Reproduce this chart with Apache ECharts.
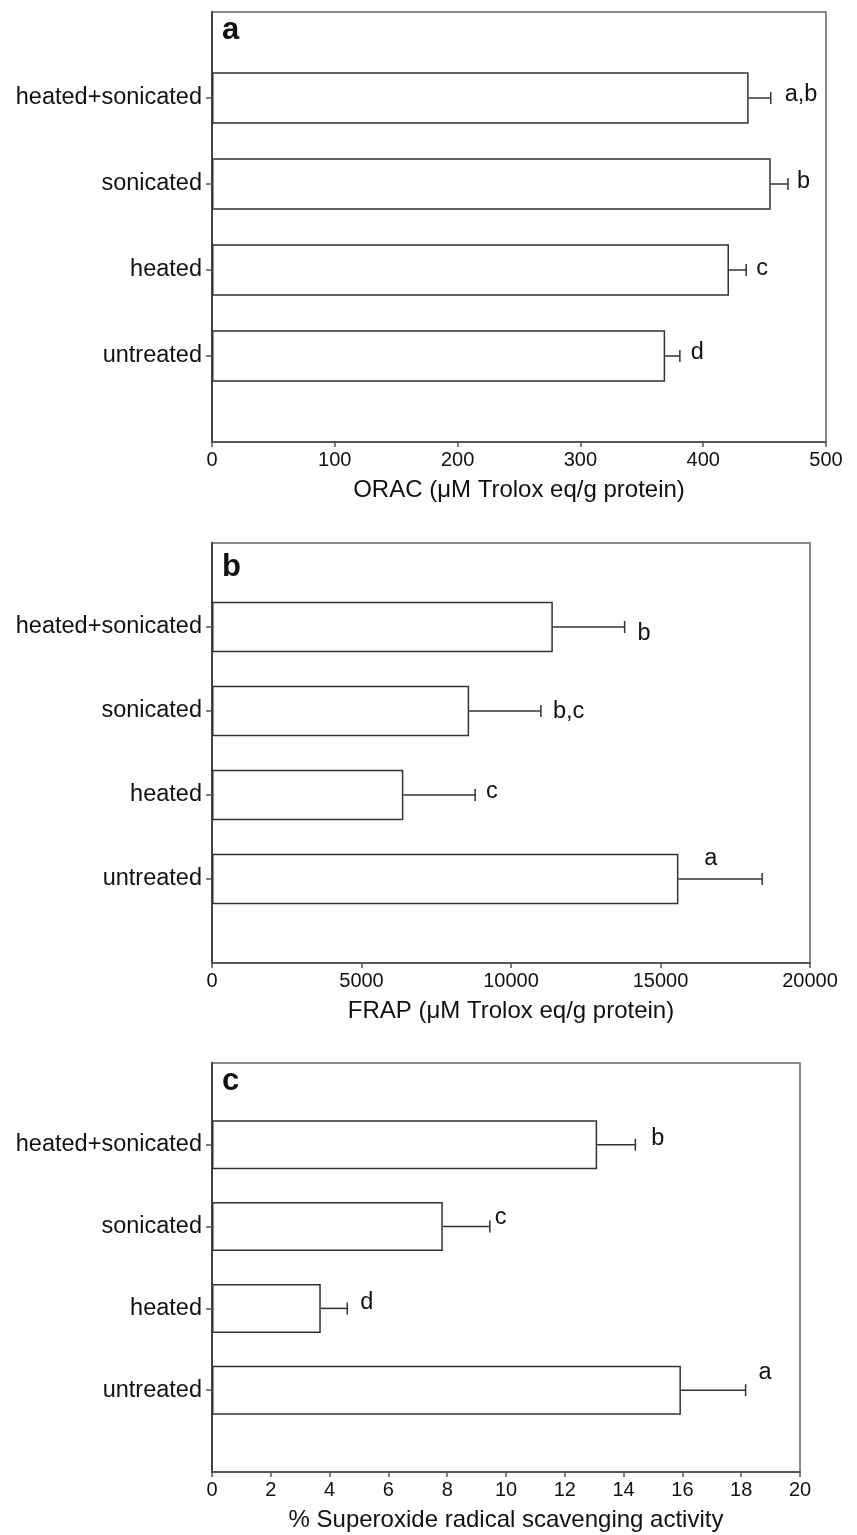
<!DOCTYPE html>
<html><head><meta charset="utf-8">
<script src="https://cdn.jsdelivr.net/npm/echarts@6/dist/echarts.min.js"></script>
<style>html,body{margin:0;padding:0;background:#fff}#c{width:857px;height:1535px}</style>
</head><body><div id="c"></div>
<script>
// ---- data (bottom to top) ----
const categories = ['untreated', 'heated', 'sonicated', 'heated+sonicated'];
const oracValues = [369, 421, 455, 437];
const oracErrors = [12, 14, 14, 18];
const oracLetters = ['d', 'c', 'b', 'a,b'];
const frapValues = [15600, 6400, 8600, 11400];
const frapErrors = [2800, 2400, 2400, 2400];
const frapLetters = ['a', 'c', 'b,c', 'b'];
const sodValues = [15.95, 3.7, 7.85, 13.1];
const sodErrors = [2.2, 0.9, 1.6, 1.3];
const sodLetters = ['a', 'd', 'c', 'b'];
const panelLabels = ['a', 'b', 'c'];
const axisTitles = ['ORAC (μM Trolox eq/g protein)', 'FRAP (μM Trolox eq/g protein)', '% Superoxide radical scavenging activity'];
const axisMax = [500, 20000, 20];
const axisInterval = [100, 5000, 2];

// ---- layout / style ----
const FONT = '"Liberation Sans", Arial, Helvetica, sans-serif';
const grids = [
  { left: 212, right: 31, top: 12, height: 430 },
  { left: 212, right: 47, top: 543, height: 420 },
  { left: 212, right: 57, top: 1063, height: 409 }
];
const panelLabelY = [30, 567, 1081];
const letterOffsets = [
  [[11, -3], [10, -1], [9, -2], [14, -3]],
  [[-58, -20], [11, -3], [12, 1], [13, 7]],
  [[13, -18], [13, -6], [5, -9], [16, -6]]
];
const barWidths = [51.5, 50.5, 49];

const panels = [
  { values: oracValues, errors: oracErrors, letters: oracLetters },
  { values: frapValues, errors: frapErrors, letters: frapLetters },
  { values: sodValues, errors: sodErrors, letters: sodLetters }
];
const yData = [''].concat(categories, ['']);

const option = {
  animation: false,
  backgroundColor: '#fff',
  grid: grids.map(g => Object.assign({ show: true, borderColor: '#666', borderWidth: 1.5, backgroundColor: '#fff' }, g)),
  xAxis: panels.map((p, k) => ({
    type: 'value', gridIndex: k, min: 0, max: axisMax[k], interval: axisInterval[k],
    splitLine: { show: false },
    axisLine: { show: true, lineStyle: { color: '#555', width: 2 } },
    axisTick: { show: true, length: 5, lineStyle: { color: '#555', width: 1.5 } },
    axisLabel: { color: '#111', fontSize: 20, fontFamily: FONT, margin: 8, formatter: (v) => String(v) },
    name: axisTitles[k], nameLocation: 'middle', nameGap: 36,
    nameTextStyle: { color: '#111', fontSize: 24, fontFamily: FONT }
  })),
  yAxis: panels.map((p, k) => ({
    type: 'category', gridIndex: k, data: yData, boundaryGap: false,
    axisLine: { show: true, lineStyle: { color: '#444', width: 2 } },
    axisTick: { show: true, length: 6, interval: (i) => i >= 1 && i <= categories.length, lineStyle: { color: '#555', width: 1.5 } },
    axisLabel: { color: '#111', fontSize: 23.5, fontFamily: FONT, margin: 10, interval: 0 },
    splitLine: { show: false }
  })),
  graphic: panelLabels.map((t, k) => ({
    type: 'text', x: 222, y: panelLabelY[k],
    style: { text: t, font: 'bold 31px ' + FONT, fill: '#111', align: 'left', verticalAlign: 'middle' }
  })),
  series: []
};

panels.forEach((p, k) => {
  option.series.push({
    type: 'bar', xAxisIndex: k, yAxisIndex: k, barWidth: barWidths[k],
    itemStyle: { color: '#fff', borderColor: '#333', borderWidth: 1.5 },
    data: [null].concat(p.values, [null])
  });
  option.series.push({
    type: 'custom', xAxisIndex: k, yAxisIndex: k, clip: false,
    encode: { x: 0, y: 1 },
    data: p.values.map((v, i) => [v, i + 1, p.errors[i], i]),
    renderItem: (params, api) => {
      const v = api.value(0), idx = api.value(1), e = api.value(2), j = api.value(3);
      const base = api.coord([v, idx]);
      const tip = api.coord([v + e, idx]);
      const off = letterOffsets[k][j];
      return {
        type: 'group',
        children: [
          { type: 'line', shape: { x1: base[0], y1: base[1], x2: tip[0], y2: tip[1] }, style: { stroke: '#333', lineWidth: 1.5 } },
          { type: 'line', shape: { x1: tip[0], y1: tip[1] - 6, x2: tip[0], y2: tip[1] + 6 }, style: { stroke: '#333', lineWidth: 1.5 } },
          { type: 'text', x: tip[0] + off[0], y: tip[1] + off[1],
            style: { text: p.letters[j], font: '23.5px ' + FONT, fill: '#111', align: 'left', verticalAlign: 'middle' } }
        ]
      };
    }
  });
});

const chart = echarts.init(document.getElementById('c'), null, { renderer: 'canvas' });
chart.setOption(option);
</script>
</body></html>
